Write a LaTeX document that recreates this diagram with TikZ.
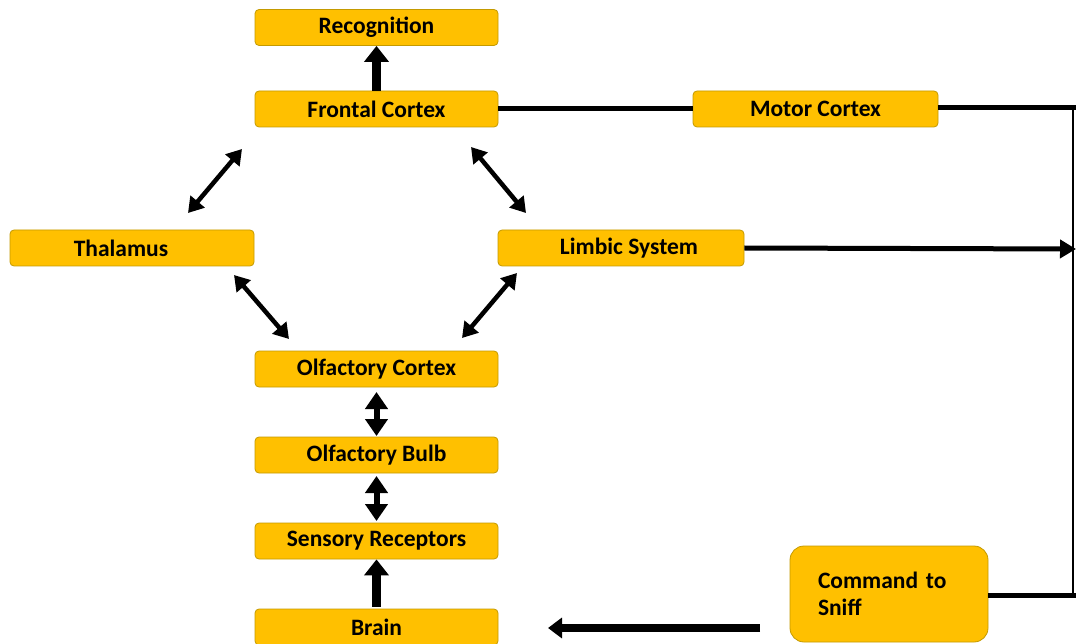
\documentclass[tikz,border=0pt]{standalone}
\usepackage{fontspec}
\setmainfont{Carlito}
\usetikzlibrary{arrows.meta}
\definecolor{boxfill}{HTML}{FFC000}
\definecolor{boxline}{HTML}{C49A00}
\begin{document}
\begin{tikzpicture}[x=1pt,y=-1pt,
  box/.style={draw=boxline, line width=0.8pt, fill=boxfill, rounded corners=4pt,
    minimum width=243pt, minimum height=36pt, inner sep=0pt,
    font=\fontsize{23.5}{27}\selectfont\bfseries},
  uparrow/.style={line width=9pt, -{Triangle[length=16pt,width=24pt]}},
  dbl/.style={line width=4.5pt, {Triangle[length=15pt,width=18pt]}-{Triangle[length=15pt,width=18pt]}},
  vdbl/.style={line width=6pt, {Triangle[length=17pt,width=22pt]}-{Triangle[length=17pt,width=22pt]}},
  thickline/.style={line width=5pt},
  thinline/.style={line width=2pt}
]
\useasboundingbox (0,0) rectangle (1076,644);

\node[box] (recog) at (376.5,27.5) {\raisebox{-2pt}{Recognition}};
\node[box] (frontal) at (376.5,109) {Frontal Cortex};
\node[box, minimum width=245pt] (motor) at (815.5,109) {Motor Cortex};
\node[box, minimum width=244pt] (thal) at (132,248) {\raisebox{-3pt}{\hspace{-22pt}Thalamus}};
\node[box, minimum width=246pt] (limbic) at (621,248) {\raisebox{2pt}{\hspace{16pt}Limbic System}};
\node[box] (olfc) at (376.5,369) {Olfactory Cortex};
\node[box] (olfb) at (376.5,455) {Olfactory Bulb};
\node[box] (sens) at (376.5,541) {Sensory Receptors};
\node[box] (brain) at (376.5,627) {\raisebox{-2pt}{Brain}};
\node[box, minimum width=198pt, minimum height=96pt, rounded corners=14pt,
  inner xsep=28pt, text width=142pt, align=left] (cmd) at (889,594)
  {Command to\\Sniff};

% vertical arrows
\draw[uparrow] (frontal.north) -- (recog.south);
\draw[uparrow] (brain.north) ++(0,-2) coordinate (bn) (bn) -- (sens.south);
\coordinate (ocb1) at (376.5,392);
\coordinate (ocb2) at (376.5,436);
\draw[vdbl] (ocb1) -- (ocb2);
\coordinate (obs1) at (376.5,476);
\coordinate (obs2) at (376.5,521);
\draw[vdbl] (obs1) -- (obs2);

% diagonal double arrows
\coordinate (ft1) at (242,149);
\coordinate (ft2) at (188,213);
\draw[dbl] (ft1) -- (ft2);
\coordinate (fl1) at (471,147);
\coordinate (fl2) at (526,213);
\draw[dbl] (fl1) -- (fl2);
\coordinate (to1) at (234,275);
\coordinate (to2) at (289,339);
\draw[dbl] (to1) -- (to2);
\coordinate (lo1) at (517,273);
\coordinate (lo2) at (462,338);
\draw[dbl] (lo1) -- (lo2);

% right side
\coordinate (rtop) at (1076,108);
\coordinate (rbot) at (1076,595);
\coordinate (vtop) at (1073,106);
\coordinate (vbot) at (1073,597);
\coordinate (lend) at (1076,249);
\draw[thickline] (frontal.east) -- (motor.west);
\draw[thickline] (motor.east |- rtop) -- (rtop);
\draw[thinline] (vtop) -- (vbot);
\draw[thickline] (cmd.east |- rbot) -- (rbot);
\draw[line width=5pt, -{Triangle[length=16pt,width=18pt]}] (limbic.east) -- (lend);

% brain arrow
\coordinate (ba1) at (760,628);
\coordinate (ba2) at (548,628);
\draw[line width=8pt, -{Triangle[length=14pt,width=20pt]}] (ba1) -- (ba2);
\end{tikzpicture}
\end{document}
